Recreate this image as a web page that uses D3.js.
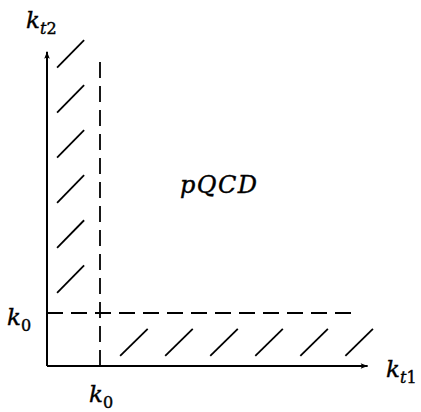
<!DOCTYPE html>
<html><head><meta charset="utf-8">
<script src="https://cdn.jsdelivr.net/npm/d3@7"></script>
<style>
html,body{margin:0;padding:0;background:#fff;}
svg{display:block;}
text{font-family:"DejaVu Serif",serif;fill:#000;stroke:#000;stroke-width:0.4px;}
</style></head>
<body>
<svg id="c" width="421" height="412"></svg>
<script>
// ---- data (in units of k0) ----
const k0 = 1;
const axisMax = [6.05, 5.93];          // x (k_t1) and y (k_t2) axis extents
const cutoffLength = 5.8;              // extent of the dashed k0 lines
const hatchStarts = [1.38, 2.23, 3.08, 3.93, 4.78, 5.63];
const hatchOffset = 0.19;              // distance of hatch from the axis
const hatchSpan = [0.52, 0.51];        // along-axis, across-axis length
const axisLabels = [{base:"k", sub:"t1"}, {base:"k", sub:"t2"}];
const tickLabels = [{base:"k", sub:"0"}];
const regionLabel = "pQCD";

const svg = d3.select("#c");
const x = d3.scaleLinear().domain([0, 1]).range([47, 100]);
const y = d3.scaleLinear().domain([0, 1]).range([366, 313]);

// arrow marker
const defs = svg.append("defs");
defs.append("marker").attr("id","arr").attr("viewBox","0 0 10 10")
  .attr("refX",10).attr("refY",5).attr("markerWidth",10).attr("markerHeight",7)
  .attr("markerUnits","userSpaceOnUse").attr("orient","auto")
  .append("path").attr("d","M0,1 L10,5 L0,9 L2,5 Z").attr("fill","#000");

// axes
svg.append("line").attr("x1",x(0)).attr("y1",y(0)).attr("x2",x(axisMax[0])).attr("y2",y(0))
  .attr("stroke","#000").attr("stroke-width",2).attr("marker-end","url(#arr)");
svg.append("line").attr("x1",x(0)).attr("y1",y(0)).attr("x2",x(0)).attr("y2",y(axisMax[1]))
  .attr("stroke","#000").attr("stroke-width",2).attr("marker-end","url(#arr)");

// dashed k0 lines
svg.append("line").attr("x1",x(0)).attr("y1",y(k0)).attr("x2",x(cutoffLength)).attr("y2",y(k0))
  .attr("stroke","#000").attr("stroke-width",1.8).attr("stroke-dasharray","16,8");
svg.append("line").attr("x1",x(k0)).attr("y1",y(0)).attr("x2",x(k0)).attr("y2",y(cutoffLength))
  .attr("stroke","#000").attr("stroke-width",1.8).attr("stroke-dasharray","16,8");

// hatches along k_t1 axis
svg.selectAll(".hx").data(hatchStarts).join("line").attr("class","hx")
  .attr("x1",d=>x(d)).attr("y1",y(hatchOffset))
  .attr("x2",d=>x(d+hatchSpan[0])).attr("y2",y(hatchOffset+hatchSpan[1]))
  .attr("stroke","#000").attr("stroke-width",1.8);
// hatches along k_t2 axis
svg.selectAll(".hy").data(hatchStarts).join("line").attr("class","hy")
  .attr("x1",x(hatchOffset)).attr("y1",d=>y(d))
  .attr("x2",x(hatchOffset+hatchSpan[1])).attr("y2",d=>y(d+hatchSpan[0]))
  .attr("stroke","#000").attr("stroke-width",1.8);

function label(px, py, lab){
  const t = svg.append("text").attr("x",px).attr("y",py).attr("font-size",23);
  t.append("tspan").attr("font-style","italic").text(lab.base);
  lab.sub.split("").forEach((ch,i)=>{
    const s = t.append("tspan").attr("font-size",16)
      .attr("font-style", /[a-z]/.test(ch) ? "italic" : "normal").text(ch);
    if(i===0) s.attr("dy",6);
  });
  return t;
}
label(386, 377, axisLabels[0]);   // k_t1
label(26, 28, axisLabels[1]);     // k_t2
label(7, 325, tickLabels[0]);     // k0 left
label(89, 402, tickLabels[0]);    // k0 bottom

svg.append("text").attr("x",180).attr("y",193).attr("font-size",24)
  .attr("font-style","italic").attr("textLength",77).text(regionLabel);
</script>
</body></html>
